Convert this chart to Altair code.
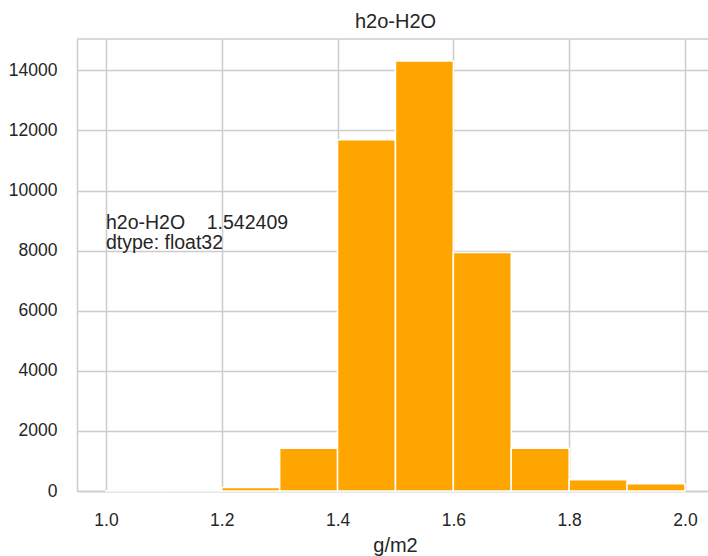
import altair as alt
import pandas as pd

# ---- data ----
bin_start = [1.0, 1.1, 1.2, 1.3, 1.4, 1.5, 1.6, 1.7, 1.8, 1.9]
bin_end = [1.1, 1.2, 1.3, 1.4, 1.5, 1.6, 1.7, 1.8, 1.9, 2.0]
counts = [8, 18, 117, 1425, 11693, 14310, 7940, 1425, 373, 240]

x_ticks = [1.0, 1.2, 1.4, 1.6, 1.8, 2.0]
y_ticks = [0, 2000, 4000, 6000, 8000, 10000, 12000, 14000]

chart_title = "h2o-H2O"
x_label = "g/m2"
note_lines = "h2o-H2O\u00a0\u00a0\u00a0\u00a01.542409\ndtype: float32"
note_x = [1.0]
note_y = [8720]

FONT = "Liberation Sans"
TXT = "#262626"
GRID = "#cccccc"
W, H = 631, 452

hist = pd.DataFrame({"start": bin_start, "end": bin_end, "count": counts})
note = pd.DataFrame({"x": note_x, "y": note_y, "t": [note_lines]})

xscale = alt.Scale(domain=[0.95, 2.0398], nice=False, zero=False)
yscale = alt.Scale(domain=[0, 15042], nice=False)

bars = alt.Chart(hist).mark_rect(
    color="#FFA500", stroke="white", strokeWidth=1.5
).encode(
    x=alt.X("start:Q", scale=xscale,
            axis=alt.Axis(values=x_ticks, format=".1f", title=x_label,
                          titleX=318)),
    x2="end:Q",
    y=alt.Y("count:Q", scale=yscale,
            axis=alt.Axis(values=y_ticks, format="d", title=None)),
    y2=alt.datum(0),
)

text = alt.Chart(note).mark_text(
    align="left", baseline="alphabetic", font=FONT, fontSize=19.5,
    color=TXT, lineBreak="\n", lineHeight=20.5
).encode(
    x=alt.X("x:Q", scale=xscale),
    y=alt.Y("y:Q", scale=yscale),
    text="t:N",
)

top_spine = alt.Chart(note).mark_rule(color=GRID, strokeWidth=1.5).encode(
    x=alt.value(0), x2=alt.value(W), y=alt.value(0)
)

chart = alt.layer(bars, text, top_spine).properties(
    width=W, height=H,
    title=alt.Title(chart_title, font=FONT, fontSize=20, fontWeight="normal",
                    color=TXT, anchor="middle", baseline="alphabetic",
                    offset=12, dx=3, dy=22),
    autosize=alt.AutoSizeParams(type="none"),
    padding={"left": 77, "top": 39, "right": 0, "bottom": 65},
).configure_view(stroke=None).configure_axis(
    labelFont=FONT, labelFontSize=17.5, labelColor=TXT,
    titleFont=FONT, titleFontSize=20, titleColor=TXT, titleFontWeight="normal",
    grid=True, gridColor=GRID, gridWidth=1.5,
    domain=True, domainColor=GRID, domainWidth=1.5,
    ticks=False, tickSize=0, labelPadding=20,
).configure_axisX(titlePadding=7, labelAngle=0).configure_axisY(labelPadding=20)

chart.save("out.html", embed_options={"renderer": "svg", "actions": False})
